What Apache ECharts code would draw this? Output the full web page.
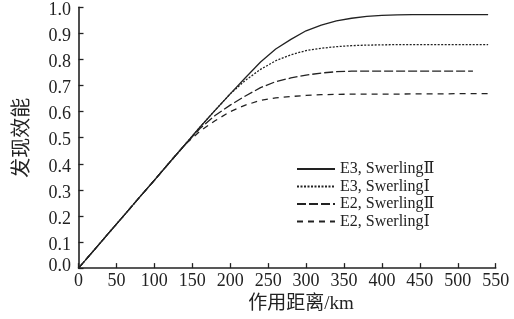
<!DOCTYPE html>
<html><head><meta charset="utf-8">
<script src="https://cdn.jsdelivr.net/npm/echarts@6/dist/echarts.min.js"></script>
<style>html,body{margin:0;padding:0;background:#fff}#c{width:514px;height:319px}</style>
</head><body><div id="c"></div>
<script>
const distance = [0,20,40,60,80,100,120,140,160,180,200,220,240,260,280,300,320,340,360,380,400,420,440,460,480,500,520,540];
const e3SwII = [0,0.067,0.135,0.202,0.270,0.337,0.405,0.472,0.540,0.605,0.668,0.730,0.790,0.840,0.877,0.910,0.932,0.948,0.958,0.965,0.969,0.971,0.972,0.972,0.972,0.972,0.972,0.972];
const e3SwI  = [0,0.067,0.135,0.202,0.270,0.337,0.405,0.472,0.540,0.605,0.668,0.720,0.762,0.795,0.818,0.834,0.843,0.849,0.853,0.855,0.856,0.857,0.857,0.857,0.857,0.857,0.857,0.857];
const e2SwII = [0,0.067,0.135,0.202,0.270,0.337,0.405,0.472,0.535,0.585,0.625,0.660,0.692,0.715,0.729,0.740,0.748,0.753,0.755,0.755,0.755,0.755,0.755,0.755,0.755,0.755,0.755];
const e2SwI  = [0,0.067,0.135,0.202,0.270,0.337,0.405,0.472,0.525,0.565,0.600,0.625,0.643,0.653,0.658,0.662,0.665,0.666,0.667,0.667,0.667,0.667,0.668,0.668,0.668,0.669,0.669,0.669];
const seriesNames = ['E3, SwerlingⅡ','E3, SwerlingⅠ','E2, SwerlingⅡ','E2, SwerlingⅠ'];
const xTicks = [0,50,100,150,200,250,300,350,400,450,500,550];
const yTicks = [0,0.1,0.2,0.3,0.4,0.5,0.6,0.7,0.8,0.9,1.0];

const pair = v => v.map((y,i)=>[distance[i],y]);
const font = '"Liberation Serif", "DejaVu Serif", "Noto Sans CJK SC", serif';
const styles = [
  {type:'solid', width:1.3},
  {type:[2,1.5], width:1.3},
  {type:[9,3], width:1.3},
  {type:[6,5], width:1.3}
];
const vals = [e3SwII,e3SwI,e2SwII,e2SwI];
const lblStyle = {fontFamily:font,fontSize:18,color:'#222'};
const chart = echarts.init(document.getElementById('c'));
chart.setOption({
  animation:false,
  backgroundColor:'#fff',
  grid:{left:78.5,right:18.3,top:7.3,bottom:48.3},
  legend:{
    left:291, top:156, orient:'vertical', itemWidth:38, itemHeight:14, itemGap:1.5,
    itemStyle:{opacity:0},
    textStyle:{fontFamily:font,fontSize:16,color:'#222'},
    data:seriesNames
  },
  xAxis:{
    type:'value', min:0, max:550, interval:50,
    name:'作用距离/km', nameLocation:'middle', nameGap:21,
    nameTextStyle:{fontFamily:font,fontSize:19,color:'#222',padding:[0,0,0,28]},
    axisLine:{lineStyle:{color:'#222',width:1.6}},
    axisTick:{inside:true,length:5,lineStyle:{color:'#222',width:1.3}},
    axisLabel:Object.assign({margin:4,
      formatter:v=>xTicks.includes(v)?String(v):''},lblStyle),
    splitLine:{show:false}
  },
  yAxis:{
    type:'value', min:0, max:1, interval:0.1,
    name:'发现效能', nameLocation:'middle', nameGap:46, nameRotate:90,
    nameTextStyle:{fontFamily:font,fontSize:20,color:'#222'},
    axisLine:{show:true,lineStyle:{color:'#222',width:1.6}},
    axisTick:{show:true,inside:true,length:5,lineStyle:{color:'#222',width:1.3}},
    axisLabel:{margin:7.5,
      formatter:v=>{const t=yTicks.find(k=>Math.abs(k-v)<1e-6);if(t===undefined)return '';return t===0?'{b|0.0}':'{a|'+t.toFixed(1)+'}';},
      rich:{
        a:Object.assign({padding:[6,0,0,0]},lblStyle),
        b:Object.assign({padding:[0,0,3,0]},lblStyle)
      }
    },
    splitLine:{show:false}
  },
  series:seriesNames.map((n,i)=>({
    name:n, type:'line', data:pair(vals[i]), symbol:'none', smooth:false,
    lineStyle:Object.assign({color:'#222'},styles[i]),
    itemStyle:{color:'#222'}
  }))
});
</script></body></html>
